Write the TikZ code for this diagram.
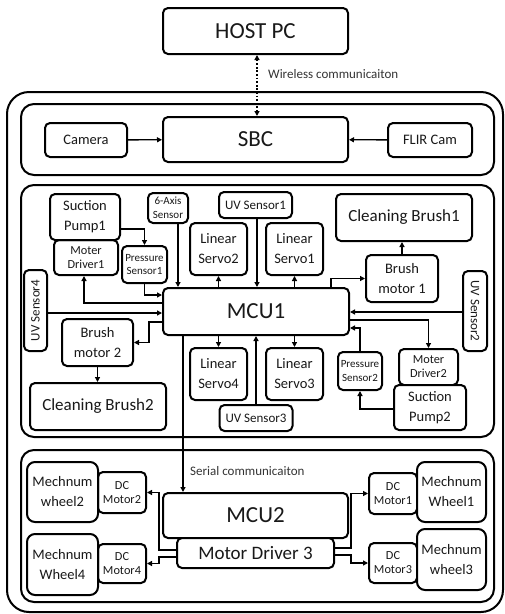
\documentclass[tikz,border=0pt]{standalone}
\usepackage{fontspec}
\setmainfont{Carlito}
\usepackage{graphicx}
\usetikzlibrary{arrows.meta,calc}

\begin{document}
\begin{tikzpicture}[x=1pt, y=-1pt,
  box/.style={draw, line width=2pt, rounded corners=5pt, fill=white, align=center,
              inner sep=0pt, text=black!90},
  grp/.style={draw, line width=2pt, rounded corners=13pt},
  arr/.style={line width=1.3pt, -{Triangle[length=5pt,width=5pt]}},
  fbig/.style={font=\fontsize{23}{26}\selectfont},
  fmid/.style={font=\fontsize{17}{20}\selectfont},
  fnorm/.style={font=\fontsize{14.5}{20}\selectfont},
  fsmall/.style={font=\fontsize{12.3}{14}\selectfont},
  ftiny/.style={font=\fontsize{11}{13.5}\selectfont},
  lbl/.style={anchor=west, inner sep=0pt, text=black!80, font=\fontsize{13}{15}\selectfont}
]
  \useasboundingbox (0,0) rectangle (505,614);

  % frames
  \draw[grp, rounded corners=22pt] (7,92) rectangle (503,612);
  \draw[grp] (21,104) rectangle (494,175);
  \draw[grp] (21,185) rectangle (494,437);
  \draw[grp] (21,450) rectangle (494,602);

  % host and SBC
  \node[box, fbig, minimum width=185pt, minimum height=46pt] (host) at (255.5,31) {HOST PC};
  \node[box, fbig, minimum width=185pt, minimum height=45pt] (sbc) at (255.5,139.5) {SBC};
  \node[box, fnorm, minimum width=82pt, minimum height=34pt] (camera) at (86,140) {Camera};
  \node[box, fnorm, minimum width=84pt, minimum height=34pt] (flir) at (430,140) {FLIR Cam};

  % MCU1 group
  \node[box, fsmall, minimum width=64pt, minimum height=35pt] (mdrv1) at (86,257.5) {Moter\\Driver1};
  \node[box, fnorm, minimum width=70pt, minimum height=46pt] (pump1) at (85,217) {Suction\\Pump1};
  \node[box, ftiny, minimum width=40pt, minimum height=30pt] (axis) at (168,208) {6-Axis\\Sensor};
  \node[box, font=\fontsize{13}{15}\selectfont, minimum width=73pt, minimum height=26pt] (uv1) at (255.5,205) {UV Sensor1};
  \node[box, fnorm, minimum width=57pt, minimum height=52pt] (ls2) at (218.5,249) {Linear\\Servo2};
  \node[box, fnorm, minimum width=57pt, minimum height=52pt] (ls1) at (294.5,249) {Linear\\Servo1};
  \node[box, ftiny, minimum width=45pt, minimum height=37pt] (psens1) at (144.5,264.5) {Pressure\\Sensor1};
  \node[box, fbig, minimum width=186pt, minimum height=47pt] (mcu1) at (256,311.5) {MCU1};
  \node[box, fmid, minimum width=136pt, minimum height=47pt] (brush1) at (404,217.5) {Cleaning Brush1};
  \node[box, fnorm, minimum width=72pt, minimum height=47pt] (bm1) at (402,278.5) {Brush\\motor 1};
  \node[box, font=\fontsize{13}{15}\selectfont, minimum width=24pt, minimum height=80pt] (uv2) at (475,311) {\rotatebox{-90}{UV Sensor2}};
  \node[box, font=\fontsize{13}{15}\selectfont, minimum width=23pt, minimum height=81pt] (uv4) at (35.5,310.5) {\rotatebox{90}{UV Sensor4}};
  \node[box, fnorm, minimum width=71pt, minimum height=47pt] (bm2) at (97.5,342.5) {Brush\\motor 2};
  \node[box, fmid, minimum width=136pt, minimum height=47pt] (brush2) at (98,406.5) {Cleaning Brush2};
  \node[box, fnorm, minimum width=57pt, minimum height=52pt] (ls4) at (218.5,374) {Linear\\Servo4};
  \node[box, fnorm, minimum width=57pt, minimum height=52pt] (ls3) at (294.5,374) {Linear\\Servo3};
  \node[box, font=\fontsize{13}{15}\selectfont, minimum width=73pt, minimum height=26pt] (uv3) at (256,418) {UV Sensor3};
  \node[box, ftiny, minimum width=44pt, minimum height=38pt] (psens2) at (360,371) {Pressure\\Sensor2};
  \node[box, fsmall, minimum width=59pt, minimum height=36pt] (mdrv2) at (428.5,367) {Moter\\Driver2};
  \node[box, fnorm, minimum width=72pt, minimum height=45pt] (pump2) at (430,407.5) {Suction\\Pump2};

  % MCU2 group
  \node[box, fbig, minimum width=185pt, minimum height=45pt] (mcu2) at (255.5,515.5) {MCU2};
  \node[box, font=\fontsize{19}{22}\selectfont, minimum width=157pt, minimum height=30pt] (mdrv3) at (255.5,553) {Motor Driver 3};
  \node[box, fsmall, minimum width=48pt, minimum height=41pt] (dc2) at (122,492.5) {DC\\Motor2};
  \node[box, fnorm, rounded corners=8pt, minimum width=71pt, minimum height=60pt] (wheel2) at (62.5,492) {Mechnum\\wheel2};
  \node[box, fsmall, minimum width=48pt, minimum height=39pt] (dc4) at (122,563.5) {DC\\Motor4};
  \node[box, fnorm, rounded corners=8pt, minimum width=71pt, minimum height=61pt] (wheel4) at (62.5,564.5) {Mechnum\\Wheel4};
  \node[box, fsmall, minimum width=48pt, minimum height=41pt] (dc1) at (393,493.5) {DC\\Motor1};
  \node[box, fnorm, rounded corners=8pt, minimum width=69pt, minimum height=60pt] (wheel1) at (451.5,492) {Mechnum\\Wheel1};
  \node[box, fsmall, minimum width=48pt, minimum height=40pt] (dc3) at (393,563) {DC\\Motor3};
  \node[box, fnorm, rounded corners=8pt, minimum width=69pt, minimum height=61pt] (wheel3) at (451.5,559.5) {Mechnum\\wheel3};

  % connectors
  \draw[line width=1.5pt, dash pattern=on 1.8pt off 1.8pt, {Triangle[length=5pt,width=5pt]}-{Triangle[length=5pt,width=5pt]}]
    ([xshift=1.5pt]host.south) -- ([xshift=1.5pt]sbc.north);
  \node[lbl] (wlbl) at (268,74) {Wireless communicaiton};
  \draw[arr] (camera) -- (sbc);
  \draw[arr] (flir) -- (sbc);

  \draw[arr] (pump1.east |- 0,229) -| (psens1.north);
  \draw[arr] (psens1.south) |- (mcu1.west |- 0,295);
  \draw[arr] ([xshift=10pt]axis.south) -- ([xshift=10pt]axis.south |- mcu1.north);
  \draw[arr] ([xshift=1.5pt]uv1.south) -- ([xshift=1.5pt]uv1.south |- mcu1.north);
  \draw[arr] (ls2.south |- mcu1.north) -- (ls2.south);
  \draw[arr] (ls1.south |- mcu1.north) -- (ls1.south);
  \draw[arr] (mcu1.north -| 331,0) |- (bm1.west);
  \draw[arr] (bm1.north) -- (bm1.north |- brush1.south);
  \draw[arr] (uv2.west |- 0,312) -- (mcu1.east |- 0,312);
  \draw[arr] (mcu1.east |- 0,320) -| (mdrv2.north);
  \draw[arr] (psens2.north) |- (mcu1.east |- 0,328);
  \draw[arr] (pump2.west |- 0,409) -| (psens2.south);
  \draw[arr] (ls4.north |- mcu1.south) -- (ls4.north);
  \draw[arr] (ls3.north |- mcu1.south) -- (ls3.north);
  \draw[arr] (uv3.north) -- (uv3.north |- mcu1.south);
  \draw[arr] (mcu1.west |- 0,303) -| ([xshift=-2pt]mdrv1.south);
  \draw[arr] (uv4.east |- 0,313) -- (mcu1.west |- 0,313);
  \draw[arr] (mcu1.west |- 0,322) -| ([xshift=15pt]bm2.east) -- (bm2.east);
  \draw[arr] (bm2.south) -- (bm2.south |- brush2.north);

  \draw[arr] (mcu1.south -| 183,0) -- (mcu2.north -| 183,0);
  \node[lbl] (slbl) at (190,471) {Serial communicaiton};

  \draw[arr] (mdrv3.west |- 0,550) -| ([xshift=12pt]dc2.east) -- (dc2.east);
  \draw[arr] (mdrv3.west |- 0,557) -| ([xshift=12pt]dc4.east) -- (dc4.east);
  \draw[arr] (mdrv3.east |- 0,548) -| ([xshift=-17pt]dc1.west) -- (dc1.west);
  \draw[arr] (mdrv3.east |- 0,555) -| ([xshift=-17pt]dc3.west) -- (dc3.west);
\end{tikzpicture}
\end{document}
